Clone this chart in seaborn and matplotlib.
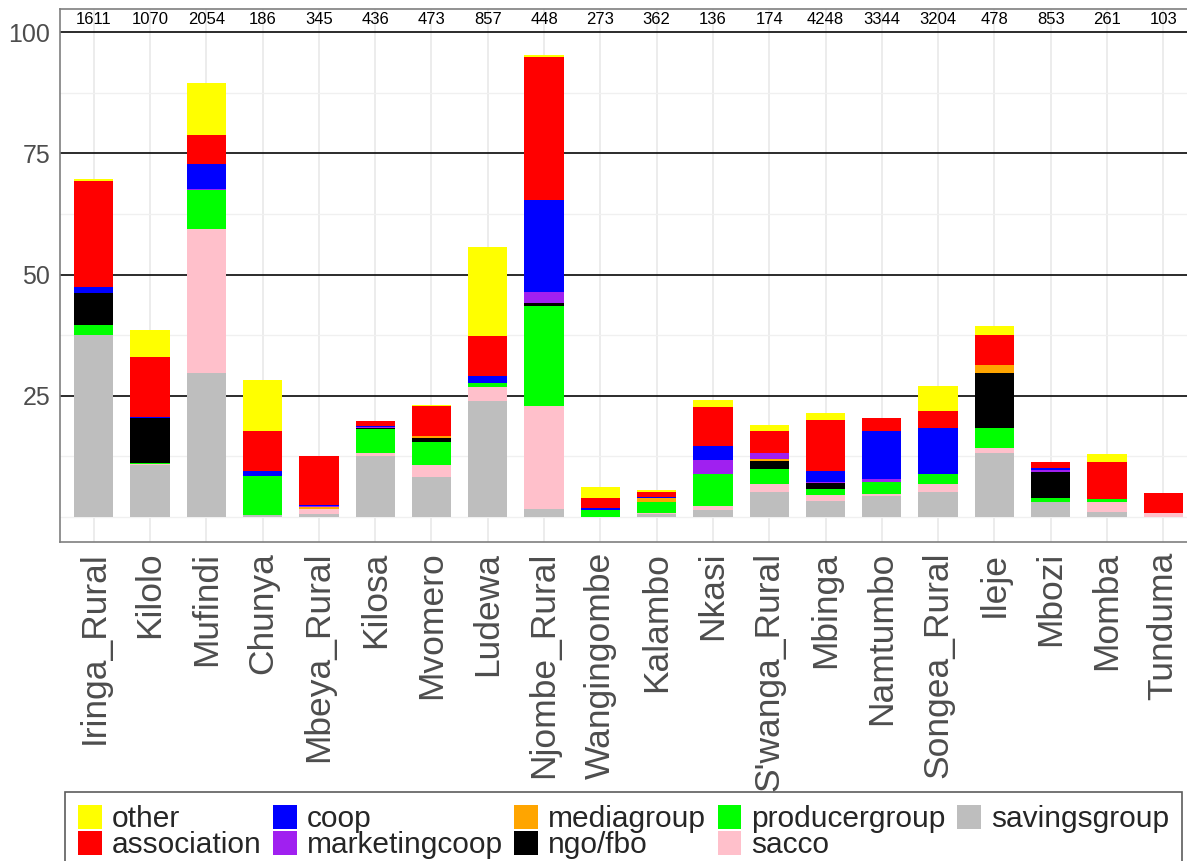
import numpy as np
import pandas as pd
import matplotlib
matplotlib.use('Agg')
import matplotlib.pyplot as plt
import seaborn as sns

# --- DATA (share of respondents, % per district) ---
districts = ['Iringa_Rural', 'Kilolo', 'Mufindi', 'Chunya', 'Mbeya_Rural', 'Kilosa',
             'Mvomero', 'Ludewa', 'Njombe_Rural', 'Wangingombe', 'Kalambo', 'Nkasi',
             "S'wanga_Rural", 'Mbinga', 'Namtumbo', 'Songea_Rural', 'Ileje', 'Mbozi',
             'Momba', 'Tunduma']
n_resp = [1611, 1070, 2054, 186, 345, 436, 473, 857, 448, 273, 362, 136, 174,
          4248, 3344, 3204, 478, 853, 261, 103]

savingsgroup = [37.6, 10.8, 29.7, 0.5, 0.6, 12.6, 8.2, 23.9, 1.6, 0.0,
                0.7, 1.4, 5.1, 3.3, 4.4, 5.1, 13.1, 3.1, 1.1, 0.0]
sacco = [0.0, 0.2, 29.6, 0.0, 1.0, 0.5, 2.6, 2.9, 21.3, 0.0,
         0.15, 0.9, 1.8, 1.2, 0.4, 1.6, 1.1, 0.0, 1.9, 0.9]
producergroup = [2.0, 0.1, 8.1, 8.0, 0.0, 5.0, 4.6, 0.9, 20.6, 1.5,
                 2.2, 6.5, 3.0, 1.2, 2.4, 2.2, 4.2, 0.9, 0.7, 0.0]
ngo_fbo = [6.6, 9.3, 0.0, 0.0, 0.0, 0.3, 0.9, 0.0, 0.7, 0.0,
           0.0, 0.0, 1.6, 1.3, 0.0, 0.0, 11.2, 5.2, 0.0, 0.0]
mediagroup = [0.0, 0.0, 0.0, 0.0, 0.5, 0.0, 0.3, 0.0, 0.0, 0.0,
              0.8, 0.0, 0.5, 0.0, 0.0, 0.0, 1.8, 0.0, 0.0, 0.0]
marketingcoop = [0.0, 0.0, 0.3, 0.0, 0.1, 0.1, 0.0, 0.0, 2.2, 0.0,
                 0.0, 2.9, 1.2, 0.3, 0.6, 0.0, 0.0, 0.4, 0.0, 0.0]
coop = [1.2, 0.2, 5.0, 1.0, 0.35, 0.3, 0.0, 1.4, 18.9, 0.4,
        0.3, 2.9, 0.0, 2.1, 9.9, 9.4, 0.0, 0.4, 0.0, 0.0]
association = [21.8, 12.4, 6.0, 8.2, 10.1, 1.0, 6.2, 8.2, 29.6, 2.1,
               1.0, 8.1, 4.6, 10.7, 2.7, 3.5, 6.2, 1.4, 7.7, 4.0]
other = [0.6, 5.6, 10.8, 10.6, 0.0, 0.0, 0.3, 18.3, 0.3, 2.2,
         0.4, 1.5, 1.1, 1.3, 0.0, 5.3, 1.7, 0.0, 1.6, 0.0]

# --- CONFIGURATION & AESTHETICS ---
sns.set_theme(style="white")
plt.rcParams['font.family'] = ['Liberation Sans', 'DejaVu Sans']

stack_order = ['savingsgroup', 'sacco', 'producergroup', 'ngo/fbo', 'mediagroup',
               'marketingcoop', 'coop', 'association', 'other']
colors = {'other': '#FFFF00', 'association': '#FF0000', 'coop': '#0000FF',
          'marketingcoop': '#A020F0', 'mediagroup': '#FFA500', 'ngo/fbo': '#000000',
          'producergroup': '#00FF00', 'sacco': '#FFC0CB', 'savingsgroup': '#BEBEBE'}

df = pd.DataFrame({'savingsgroup': savingsgroup, 'sacco': sacco,
                   'producergroup': producergroup, 'ngo/fbo': ngo_fbo,
                   'mediagroup': mediagroup, 'marketingcoop': marketingcoop,
                   'coop': coop, 'association': association, 'other': other},
                  index=districts)
cum = df[stack_order].cumsum(axis=1)

fig = plt.figure(figsize=(11.87, 8.61), dpi=100)
ax = fig.add_axes([60 / 1187, 319 / 861, 1137 / 1187, 533 / 861])

# draw cumulative totals from the top layer down so lower layers sit on top
for grp in reversed(stack_order):
    sns.barplot(x=districts, y=cum[grp].values, order=districts, color=colors[grp],
                width=0.7, saturation=1, linewidth=0, label=grp, ax=ax)

handles, labels = ax.get_legend_handles_labels()
if ax.get_legend() is not None:
    ax.get_legend().remove()

# respondent counts along the top strip
for i, n in enumerate(n_resp):
    ax.text(i, 102.5, str(n), ha='center', va='center', fontsize=12, color='black')

ax.set_xlim(-0.6, 19.6)
ax.set_ylim(-5.16, 104.76)
ax.set_yticks([25, 50, 75, 100])
ax.set_yticks([0, 12.5, 37.5, 62.5, 87.5], minor=True)
ax.set_axisbelow(True)
ax.grid(which='major', axis='y', color='#1a1a1a', linewidth=1.3)
ax.grid(which='minor', axis='y', color='#f0f0f0', linewidth=1.0)
ax.grid(which='major', axis='x', color='#ebebeb', linewidth=1.3)

ax.tick_params(axis='x', which='both', rotation=90, labelsize=25.5,
               labelcolor='#4d4d4d', length=0, pad=7)
ax.tick_params(axis='y', which='both', labelsize=18, labelcolor='#4d4d4d',
               length=0, pad=7)
ax.set_xlabel("")
ax.set_ylabel("")

for side in ['left', 'bottom', 'top', 'right']:
    ax.spines[side].set_color('#7f7f7f')
    ax.spines[side].set_linewidth(1.2)

leg = fig.legend(handles, labels, loc='upper left',
                 bbox_to_anchor=(65 / 1187, 1 - 791.7 / 861), ncol=5, fontsize=21.5,
                 frameon=True, fancybox=False, edgecolor='#333333', borderpad=0.45,
                 labelspacing=-0.08, handlelength=0.8, handleheight=0.85,
                 handletextpad=0.33, columnspacing=0.38, borderaxespad=0)
leg.get_frame().set_linewidth(1.2)

fig.savefig('out.png', dpi=100)
